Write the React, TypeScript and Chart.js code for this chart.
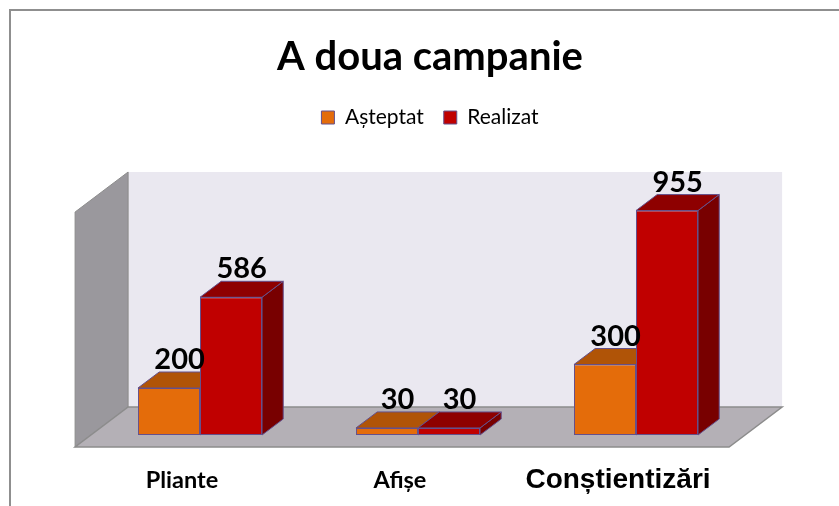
import React, { useEffect, useRef } from "react";
import { Chart, registerables } from "chart.js";

Chart.register(...registerables);

const chartTitle = "A doua campanie";
const categories = ["Pliante", "Afișe", "Conștientizări"];
const seriesLabels = ["Așteptat", "Realizat"];
const expectedValues = [200, 30, 300];
const achievedValues = [586, 30, 955];
const yMin = 0;
const yMax = 1000;

const FRONT = ["#E46C0A", "#C00000"];
const TOP = ["#B05407", "#8E0000"];
const SIDE = ["#964606", "#780000"];
const EDGE = "#64508C";

const DEPTH_X = 53;
const DEPTH_Y = -40;
const FRONT_F = -0.3;
const BAR_F = 0.4;
const BACK_F = 0.7;
const LEGEND_EXTRA = 62;

function poly(ctx: CanvasRenderingContext2D, pts: number[][], fill: string | null, stroke: string | null, lw = 1) {
  ctx.beginPath();
  ctx.moveTo(pts[0][0], pts[0][1]);
  for (let i = 1; i < pts.length; i++) ctx.lineTo(pts[i][0], pts[i][1]);
  ctx.closePath();
  if (fill) {
    ctx.fillStyle = fill;
    ctx.fill();
  }
  if (stroke) {
    ctx.strokeStyle = stroke;
    ctx.lineWidth = lw;
    ctx.stroke();
  }
}

const box3d = {
  id: "box3d",
  beforeInit(chart: any) {
    const legend = chart.legend;
    if (legend) {
      const orig = legend.fit.bind(legend);
      legend.fit = function () {
        orig();
        this.height += LEGEND_EXTRA;
      };
    }
  },
  beforeDatasetsDraw(chart: any) {
    const { ctx, chartArea: a } = chart;
    const fx = DEPTH_X * FRONT_F, fy = DEPTH_Y * FRONT_F;
    const bx = DEPTH_X * BACK_F, by = DEPTH_Y * BACK_F;
    const yTop = chart.scales.y.getPixelForValue(yMax);
    const yBase = chart.scales.y.getPixelForValue(yMin);
    ctx.save();
    // back wall
    poly(ctx, [[a.left + bx, yTop + by], [a.right + bx, yTop + by], [a.right + bx, yBase + by], [a.left + bx, yBase + by]], "#EAE8F0", null);
    // left wall
    poly(ctx, [[a.left + bx, yTop + by], [a.left + fx, yTop + fy], [a.left + fx, yBase + fy], [a.left + bx, yBase + by]], "#9A989D", "#8C8C8C", 1);
    // floor
    poly(ctx, [[a.left + fx, yBase + fy], [a.right + fx, yBase + fy], [a.right + bx, yBase + by], [a.left + bx, yBase + by]], "#B4B0B6", "#8C8C8C", 1.5);
    // bar side + top faces
    const dx = DEPTH_X * BAR_F, dy = DEPTH_Y * BAR_F;
    chart.data.datasets.forEach((ds: any, i: number) => {
      const meta = chart.getDatasetMeta(i);
      meta.data.forEach((bar: any) => {
        const { x, y, base, width } = bar.getProps(["x", "y", "base", "width"], true);
        const l = x - width / 2, r = x + width / 2;
        poly(ctx, [[r, y], [r + dx, y + dy], [r + dx, base + dy], [r, base]], SIDE[i], EDGE, 1);
        poly(ctx, [[l, y], [r, y], [r + dx, y + dy], [l + dx, y + dy]], TOP[i], EDGE, 1);
      });
    });
    ctx.restore();
  },
  afterDatasetsDraw(chart: any) {
    const { ctx } = chart;
    const dx = DEPTH_X * BAR_F, dy = DEPTH_Y * BAR_F;
    ctx.save();
    ctx.font = "bold 29px Lato";
    ctx.fillStyle = "#000";
    ctx.textAlign = "center";
    ctx.textBaseline = "alphabetic";
    chart.data.datasets.forEach((ds: any, i: number) => {
      const meta = chart.getDatasetMeta(i);
      meta.data.forEach((bar: any, j: number) => {
        const { x, y } = bar.getProps(["x", "y"], true);
        ctx.fillText(String(ds.data[j]), x + dx / 2, y + dy - 3);
      });
    });
    ctx.restore();
  },
};

const hiddenAxis = (width: number) => ({
  display: true,
  grid: { display: false, drawTicks: false },
  border: { display: false },
  ticks: { display: false },
  afterFit: (scale: any) => {
    scale.width = width;
  },
});

export default function App() {
  const ref = useRef<HTMLCanvasElement>(null);
  useEffect(() => {
    if (!ref.current) return;
    const chart = new Chart(ref.current, {
      type: "bar",
      data: {
        labels: categories,
        datasets: [
          {
            label: seriesLabels[0],
            data: expectedValues,
            backgroundColor: FRONT[0],
            borderColor: EDGE,
            borderWidth: 1,
            borderSkipped: false,
            yAxisID: "y",
          },
          {
            label: seriesLabels[1],
            data: achievedValues,
            backgroundColor: FRONT[1],
            borderColor: EDGE,
            borderWidth: 1,
            borderSkipped: false,
            yAxisID: "y",
          },
        ],
      },
      options: {
        responsive: false,
        animation: false,
        devicePixelRatio: 1,
        layout: { padding: { left: 0, right: 0, top: 8, bottom: 0 } },
        datasets: { bar: { categoryPercentage: 0.569, barPercentage: 1 } },
        plugins: {
          title: {
            display: true,
            text: chartTitle,
            color: "#000",
            font: { family: "Lato", size: 40, weight: "bold", lineHeight: 1.2 },
            padding: { top: 14, bottom: 6 },
          },
          legend: {
            display: true,
            position: "top",
            labels: {
              color: "#000",
              font: { family: "Lato", size: 21 },
              boxWidth: 13,
              boxHeight: 13,
              padding: 20,
            },
          },
          tooltip: { enabled: false },
        },
        scales: {
          x: {
            grid: { display: false, drawTicks: false },
            border: { display: false },
            afterFit: (scale: any) => {
              scale.height = 71;
            },
            ticks: {
              color: "#000",
              padding: 31,
              maxRotation: 0,
              autoSkip: false,
              labelOffset: -18,
              font: (c: any) =>
                c.index === 2
                  ? { family: "Liberation Sans", size: 28, weight: "bold", lineHeight: 1.0 }
                  : { family: "Lato", size: 23.5, weight: "bold", lineHeight: 1.2 },
            },
          },
          y: {
            ...hiddenAxis(80),
            position: "left",
            min: yMin,
            max: yMax,
          },
          yRight: {
            ...hiddenAxis(104),
            type: "linear",
            position: "right",
            min: yMin,
            max: yMax,
          },
        },
      },
      plugins: [box3d],
    });
    return () => chart.destroy();
  }, []);

  return (
    <div
      style={{
        position: "fixed",
        left: 9,
        top: 9,
        width: 830,
        height: 497,
        boxSizing: "border-box",
        borderLeft: "2px solid #8f8f8f",
        borderTop: "2px solid #8f8f8f",
        overflow: "hidden",
        background: "#fff",
      }}
    >
      <canvas ref={ref} width={838} height={495} style={{ display: "block", width: 838, height: 495 }} />
    </div>
  );
}
